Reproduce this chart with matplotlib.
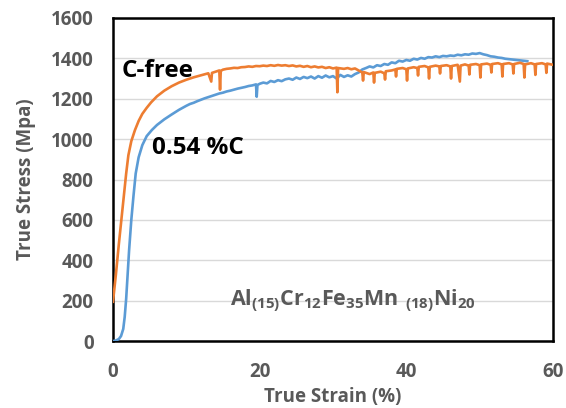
import matplotlib
matplotlib.use("Agg")
import matplotlib.pyplot as plt

plt.rcParams["font.family"] = ["Open Sans", "DejaVu Sans"]
plt.rcParams["mathtext.fontset"] = "custom"
plt.rcParams["mathtext.bf"] = "Open Sans:bold"
plt.rcParams["mathtext.rm"] = "Open Sans:bold"

GRAY = "#595959"
ORANGE = "#ED7D31"
BLUE = "#5B9BD5"

# C-free curve (strain %, stress MPa)
cfree_strain = [0, 0.4, 0.8, 1.2, 1.5, 1.8, 2.1, 2.5, 3.0, 3.5, 4.0, 4.6, 5.2, 6.0, 7.0,
                8.0, 9.0, 10.0, 11.0, 12.0, 13.0, 13.4, 13.5, 14.0, 14.5, 14.6, 14.7,
                15, 15.5, 16, 16.5, 17, 17.5, 18, 18.5, 19, 19.5, 20, 20.5, 21, 21.5,
                22, 22.5, 23, 23.5, 24, 24.5, 25, 25.5, 26, 26.5, 27, 27.5, 28, 28.5,
                29, 29.5, 30, 30.5, 30.6, 30.7, 31.5, 32, 32.5, 33, 33.5, 34, 34.1,
                34.2, 35, 35.5, 35.6, 35.7, 36.5, 37, 37.1, 37.2, 38, 38.5, 38.6, 38.7,
                39.5, 40, 40.1, 40.2, 41, 41.5, 41.6, 41.7, 42.5, 43, 43.1, 43.2, 44,
                44.5, 44.6, 44.7, 45.5, 46, 46.1, 46.2, 47, 47.3, 47.4, 48, 48.5, 48.6,
                48.7, 49.5, 50, 50.1, 50.2, 51, 51.5, 51.6, 51.7, 52.5, 53, 53.1, 53.2,
                54, 54.5, 54.6, 54.7, 55.5, 56, 56.1, 56.2, 57, 57.5, 57.6, 57.7, 58.5,
                59, 59.1, 59.2, 60]
cfree_stress = [195, 330, 480, 620, 720, 830, 920, 990, 1045, 1090, 1125, 1155, 1182, 1212,
                1240, 1262, 1280, 1294, 1306, 1316, 1326, 1285, 1328, 1334, 1340, 1245,
                1338, 1344, 1348, 1350, 1353, 1352, 1356, 1357, 1360, 1358, 1362, 1361,
                1364, 1362, 1366, 1363, 1367, 1364, 1366, 1362, 1365, 1360, 1363, 1358,
                1362, 1356, 1360, 1355, 1358, 1352, 1356, 1350, 1354, 1232, 1352, 1348,
                1352, 1346, 1350, 1340, 1330, 1290, 1332, 1322, 1330, 1280, 1328, 1334,
                1326, 1295, 1336, 1340, 1345, 1310, 1348, 1352, 1346, 1290, 1350, 1356,
                1352, 1315, 1358, 1362, 1355, 1300, 1358, 1364, 1360, 1325, 1362, 1366,
                1360, 1300, 1362, 1368, 1285, 1364, 1370, 1364, 1320, 1368, 1372, 1366,
                1305, 1370, 1374, 1368, 1330, 1372, 1376, 1370, 1310, 1372, 1376, 1370,
                1325, 1372, 1378, 1372, 1305, 1370, 1376, 1370, 1318, 1372, 1376, 1370,
                1328, 1374, 1368]

# 0.54 %C curve
carbon_strain = [0, 0.4, 0.8, 1.1, 1.4, 1.6, 1.8, 2.0, 2.2, 2.5, 2.8, 3.1, 3.5, 4.0, 4.6,
                 5.3, 6.0, 7.0, 8.0, 9.0, 10, 10.5, 11, 11.5, 12, 12.5, 13, 13.5, 14,
                 14.5, 15, 15.5, 16, 16.5, 17, 17.5, 18, 18.5, 19, 19.5, 19.6, 19.7,
                 20.0, 20.5, 21.0, 21.5, 22.0, 22.5, 23.0, 23.5, 24.0, 24.5, 25.0, 25.5,
                 26.0, 26.5, 27.0, 27.5, 28.0, 28.5, 29.0, 29.5, 30.0, 30.5, 31.0, 31.5,
                 32.0, 32.5, 33.0, 33.5, 34.0, 34.5, 35.0, 35.5, 36.0, 36.5, 37.0, 37.5,
                 38.0, 38.5, 39.0, 39.5, 40.0, 40.5, 41.0, 41.5, 42.0, 42.5, 43.0, 43.5,
                 44.0, 44.5, 45.0, 45.5, 46.0, 46.5, 47.0, 47.5, 48.0, 48.5, 49.0, 49.5,
                 50.0, 50.5, 51.0, 51.5, 52.0, 52.5, 53.0, 53.5, 54.0, 54.5, 55.0, 55.5,
                 56.0, 56.5]
carbon_stress = [0, 3, 10, 25, 60, 120, 210, 330, 450, 600, 720, 830, 910, 970, 1015,
                 1045, 1070, 1098, 1122, 1145, 1165, 1174, 1180, 1188, 1195, 1202, 1208,
                 1214, 1220, 1226, 1230, 1236, 1240, 1245, 1250, 1254, 1258, 1263, 1266,
                 1271, 1210, 1268, 1274, 1280, 1276, 1288, 1283, 1292, 1287, 1296, 1300,
                 1294, 1305, 1298, 1308, 1302, 1310, 1300, 1312, 1304, 1315, 1306, 1312,
                 1300, 1318, 1308, 1316, 1310, 1322, 1330, 1345, 1352, 1360, 1355, 1366,
                 1362, 1372, 1368, 1380, 1376, 1388, 1384, 1392, 1388, 1398, 1394, 1402,
                 1398, 1406, 1404, 1410, 1406, 1412, 1410, 1414, 1412, 1418, 1415, 1420,
                 1418, 1424, 1422, 1426, 1420, 1416, 1410, 1408, 1404, 1402, 1398, 1396,
                 1394, 1392, 1390, 1388, 1386]

x_ticks = [0, 20, 40, 60]
y_ticks = [0, 200, 400, 600, 800, 1000, 1200, 1400, 1600]

fig = plt.figure(figsize=(5.66, 4.08), dpi=100)
ax = fig.add_axes([0.1996, 0.164, 0.7774, 0.792])

ax.plot(carbon_strain, carbon_stress, color=BLUE, lw=1.9, zorder=3)
ax.plot(cfree_strain, cfree_stress, color=ORANGE, lw=1.9, zorder=3)

ax.set_xlim(0, 60)
ax.set_ylim(0, 1600)
ax.set_xticks(x_ticks)
ax.set_yticks(y_ticks)
ax.grid(axis="y", color="#d9d9d9", lw=1)
ax.set_axisbelow(True)
ax.tick_params(length=0, labelsize=13.5, labelcolor=GRAY)
ax.tick_params(axis="y", pad=14)
ax.tick_params(axis="x", pad=15)
for lbl in ax.get_xticklabels() + ax.get_yticklabels():
    lbl.set_fontweight("bold")
for s in ax.spines.values():
    s.set_color("black")
    s.set_linewidth(1.8)

ax.set_xlabel("True Strain (%)", fontsize=13.5, fontweight="bold", color=GRAY, labelpad=4)
ax.set_ylabel("True Stress (Mpa)", fontsize=13.5, fontweight="bold", color=GRAY, labelpad=11)

ax.text(1.2, 1307, "C-free", fontsize=17.5, fontweight="bold", color="black", va="baseline")
ax.text(5.3, 926, "0.54 %C", fontsize=17.5, fontweight="bold", color="black", va="baseline")
ax.text(16, 178, r"$\mathbf{Al_{(15)}Cr_{12}Fe_{35}Mn\ {}_{(18)}Ni_{20}}$",
        fontsize=15.5, color=GRAY, va="baseline")

fig.savefig("out.png", dpi=100)
